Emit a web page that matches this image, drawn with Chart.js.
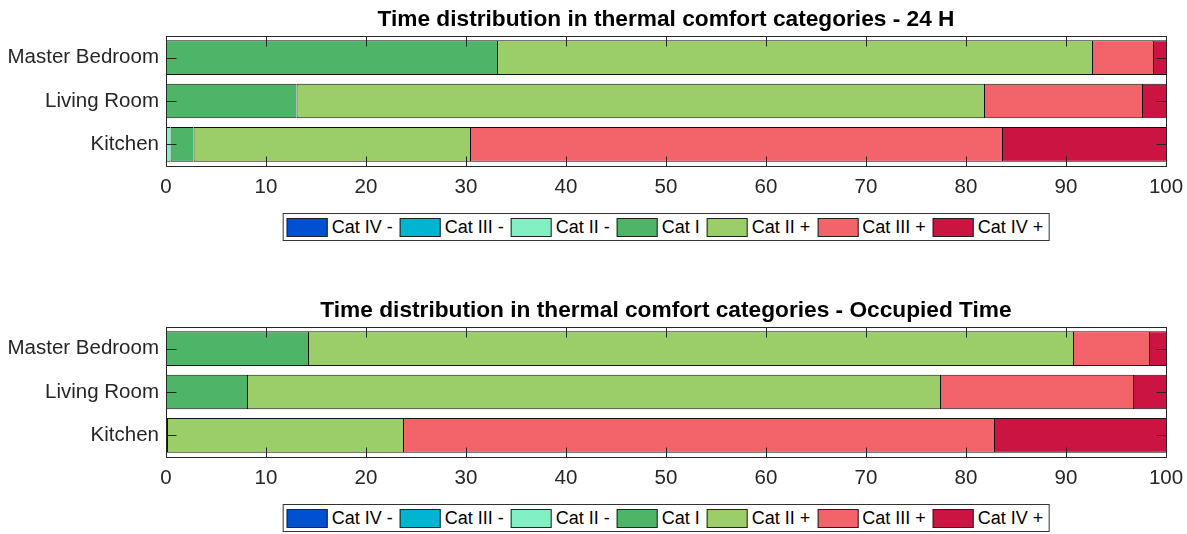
<!DOCTYPE html>
<html><head><meta charset="utf-8">
<script src="https://cdn.jsdelivr.net/npm/chart.js@4.4.1/dist/chart.umd.min.js"></script>
<style>
html,body{margin:0;padding:0;background:#fff;overflow:hidden;width:1187px;height:534px;}
.block{position:absolute;left:0;width:1187px;height:291px;}
.block canvas{position:absolute;left:0;top:0;}
.legend{position:absolute;top:213px;left:666px;transform:translateX(-50%);height:26px;border:1px solid #333;background:#fff;display:flex;align-items:center;font:18px "Liberation Sans",Arial,sans-serif;color:#000;white-space:nowrap;padding:0 5px 0 3px;}
.item{display:flex;align-items:center;margin-right:7px}
.item:last-child{margin-right:0}
.sw{width:39px;height:17px;border:1px solid #222;margin-right:4px}
</style>
</head><body>
<div class="block" style="top:0"><canvas id="c1" width="1187" height="200"></canvas><div class="legend" id="l1"></div></div>
<div class="block" style="top:291px"><canvas id="c2" width="1187" height="200"></canvas><div class="legend" id="l2"></div></div>
<script>
// ---- data ----
const categories = ['Master Bedroom', 'Living Room', 'Kitchen'];
const seriesLabels = ['Cat IV -', 'Cat III -', 'Cat II -', 'Cat I', 'Cat II +', 'Cat III +', 'Cat IV +'];
const xTickValues = [0, 10, 20, 30, 40, 50, 60, 70, 80, 90, 100];
const titles = ['Time distribution in thermal comfort categories - 24 H',
                'Time distribution in thermal comfort categories - Occupied Time'];

// 24 H (% of time)
const catIVminus24  = [0, 0, 0];
const catIIIminus24 = [0, 0, 0];
const catIIminus24  = [0, 0, 0.45];
const catI24        = [33.1, 13.05, 2.3];
const catIIplus24   = [59.5, 68.75, 27.65];
const catIIIplus24  = [6.1, 15.8, 53.2];
const catIVplus24   = [1.3, 2.4, 16.4];

// Occupied time (% of time)
const catIVminusOcc  = [0, 0, 0];
const catIIIminusOcc = [0, 0, 0];
const catIIminusOcc  = [0, 0, 0];
const catIOcc        = [14.2, 8.1, 0.1];
const catIIplusOcc   = [76.5, 69.3, 23.6];
const catIIIplusOcc  = [7.6, 19.3, 59.1];
const catIVplusOcc   = [1.7, 3.3, 17.2];

// ---- styles ----
const seriesColors = ['#0050D2', '#00B4D2', '#82F0C3', '#4EB468', '#9BCD69', '#F2646A', '#CC1442'];
const FONT = '"Liberation Sans", Arial, sans-serif';
const AXIS = '#262626';

const boxPlugin = {
  id: 'matlabBox',
  afterDatasetsDraw(chart) {
    const {ctx, chartArea: a, scales: {x, y}} = chart;
    const L = 10;
    ctx.save();
    ctx.strokeStyle = AXIS;
    ctx.lineWidth = 1;
    ctx.beginPath();
    const top = Math.round(a.top) + 0.5, bot = Math.round(a.bottom) + 0.5;
    const left = Math.round(a.left) + 0.5, right = Math.round(a.right) + 0.5;
    x.ticks.forEach(t => {
      const px = Math.round(x.getPixelForValue(t.value)) + 0.5;
      ctx.moveTo(px, bot); ctx.lineTo(px, bot - L);
      ctx.moveTo(px, top); ctx.lineTo(px, top + L);
    });
    y.ticks.forEach((t, i) => {
      const py = Math.round(y.getPixelForTick(i)) + 0.5;
      ctx.moveTo(left, py); ctx.lineTo(left + L, py);
      ctx.moveTo(right, py); ctx.lineTo(right - L, py);
    });
    ctx.stroke();
    ctx.strokeRect(left, top, right - left, bot - top);
    ctx.restore();
  }
};

function makeChart(id, legendId, title, series) {
  const datasets = series.map((vals, i) => ({
    label: seriesLabels[i],
    data: vals,
    backgroundColor: seriesColors[i],
    borderColor: '#111',
    borderWidth: {left: 1, right: 0, top: 1, bottom: 1},
    borderSkipped: false,
    categoryPercentage: 0.8,
    barPercentage: 1.0
  }));
  new Chart(document.getElementById(id), {
    type: 'bar',
    data: {labels: categories, datasets},
    options: {
      indexAxis: 'y',
      responsive: false,
      animation: false,
      layout: {padding: {left: 0, right: 21, top: 0, bottom: 0}},
      plugins: {
        legend: {display: false},
        tooltip: {enabled: false},
        title: {
          display: true, text: title, color: '#000', fullSize: false,
          font: {family: FONT, size: 22.7, weight: 'bold', lineHeight: 1.2},
          padding: {top: 6, bottom: 2.8}
        }
      },
      scales: {
        x: {
          type: 'linear', min: 0, max: 100, stacked: true,
          grid: {display: false, drawTicks: false}, border: {display: false},
          afterBuildTicks: s => { s.ticks = xTickValues.map(v => ({value: v})); },
          afterFit: s => { s.height = 34; s.paddingLeft = 0; s.paddingRight = 0; },
          ticks: {color: AXIS, font: {family: FONT, size: 20.5}, padding: 9, maxRotation: 0}
        },
        y: {
          stacked: true, offset: true,
          grid: {display: false, drawTicks: false}, border: {display: false},
          afterFit: s => { s.width = 166; },
          ticks: {color: AXIS, font: {family: FONT, size: 20.5}, padding: 7}
        }
      }
    },
    plugins: [boxPlugin]
  });
  const lg = document.getElementById(legendId);
  seriesLabels.forEach((lab, i) => {
    const it = document.createElement('div'); it.className = 'item';
    const sw = document.createElement('div'); sw.className = 'sw'; sw.style.background = seriesColors[i];
    const tx = document.createElement('span'); tx.textContent = lab;
    it.appendChild(sw); it.appendChild(tx); lg.appendChild(it);
  });
}

makeChart('c1', 'l1', titles[0], [catIVminus24, catIIIminus24, catIIminus24, catI24, catIIplus24, catIIIplus24, catIVplus24]);
makeChart('c2', 'l2', titles[1], [catIVminusOcc, catIIIminusOcc, catIIminusOcc, catIOcc, catIIplusOcc, catIIIplusOcc, catIVplusOcc]);
</script>
</body></html>
